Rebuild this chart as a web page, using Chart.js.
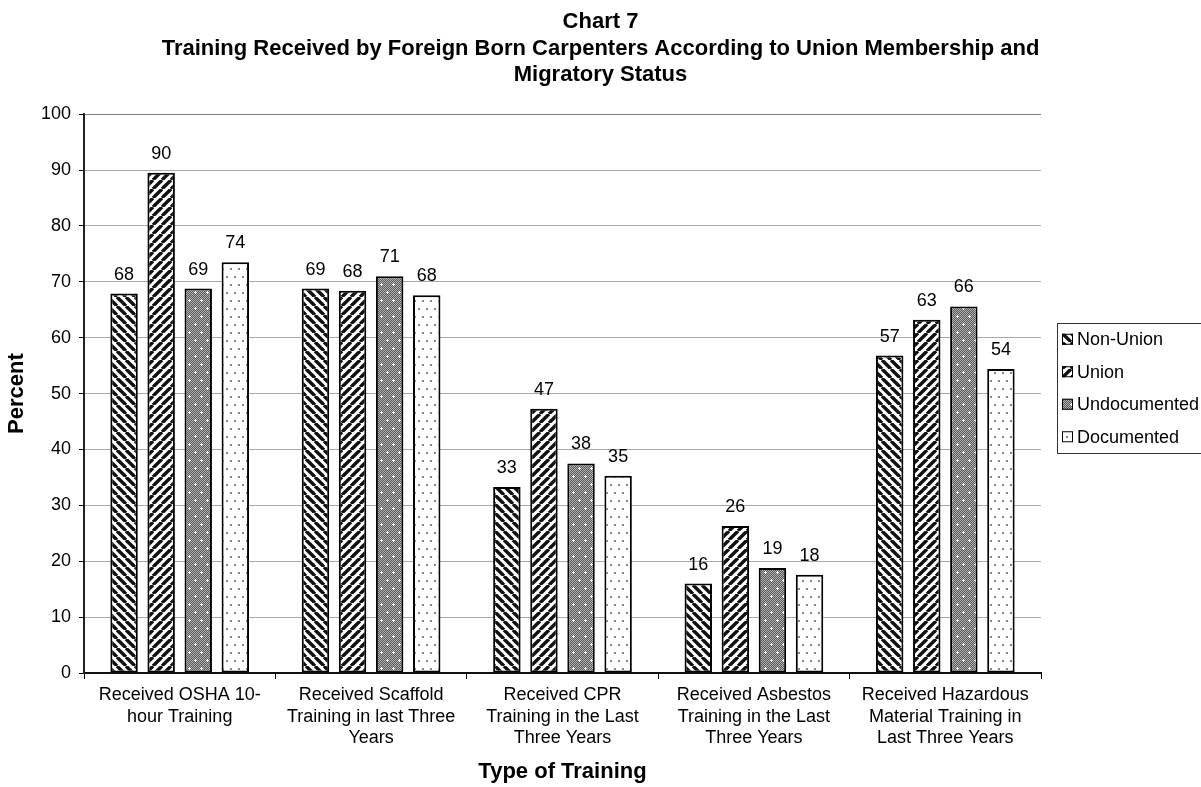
<!DOCTYPE html>
<html><head><meta charset="utf-8">
<script src="https://cdn.jsdelivr.net/npm/chart.js@4/dist/chart.umd.min.js"></script>
<style>html,body{margin:0;padding:0;background:#fff}</style>
</head><body>
<canvas id="c" width="1201" height="787"></canvas>
<script>
const categories = [
  ['Received OSHA 10-', 'hour Training'],
  ['Received Scaffold', 'Training in last Three', 'Years'],
  ['Received CPR', 'Training in the Last', 'Three Years'],
  ['Received Asbestos', 'Training in the Last', 'Three Years'],
  ['Received Hazardous', 'Material Training in', 'Last Three Years']
];
const seriesNames = ['Non-Union', 'Union', 'Undocumented', 'Documented'];
const nonUnion     = [67.9, 68.8, 33.3, 16.0, 56.8];
const union        = [89.5, 68.4, 47.3, 26.3, 63.2];
const undocumented = [68.8, 71.0, 37.5, 18.8, 65.6];
const documented   = [73.5, 67.6, 35.3, 17.6, 54.4];
const yTicks = [0, 10, 20, 30, 40, 50, 60, 70, 80, 90, 100];
const titleLines = ['Chart 7', 'Training Received by Foreign Born Carpenters According to Union Membership and', 'Migratory Status'];
const xTitle = 'Type of Training';
const yTitle = 'Percent';

const F = '"Liberation Sans", Arial, sans-serif';

function tile(w, h, draw) {
  const c = document.createElement('canvas');
  c.width = w; c.height = h;
  const g = c.getContext('2d');
  draw(g, w, h);
  return document.getElementById('c').getContext('2d').createPattern(c, 'repeat');
}
function stripes(dir) {
  return tile(9, 9, (g, w, h) => {
    g.fillStyle = '#fff'; g.fillRect(0, 0, w, h);
    g.strokeStyle = '#111'; g.lineWidth = 3.4;
    for (let k = -1; k <= 1; k++) {
      g.beginPath();
      if (dir > 0) { g.moveTo(k * w, 0); g.lineTo(k * w + w, h); }
      else { g.moveTo(k * w + w, 0); g.lineTo(k * w, h); }
      g.stroke();
    }
  });
}
const patNonUnion = stripes(1);
const patUnion = stripes(-1);
const patUndoc = tile(12, 16, (g, w, h) => {
  for (let y = 0; y < h; y++) for (let x = 0; x < w; x++) {
    g.fillStyle = ((x + y) % 2) ? '#5a5a5a' : '#b0b0b0';
    g.fillRect(x, y, 1, 1);
  }
  g.fillStyle = '#fff';
  [[3, 4], [9, 12]].forEach(([x, y]) => {
    g.fillRect(x - 1, y, 3, 1); g.fillRect(x, y - 1, 1, 3);
  });
});
const patDoc = tile(8, 16, (g, w, h) => {
  g.fillStyle = '#fff'; g.fillRect(0, 0, w, h);
  g.fillStyle = '#888';
  g.fillRect(2, 4, 2, 2); g.fillRect(6, 12, 2, 2);
});
const patterns = [patNonUnion, patUnion, patUndoc, patDoc];
const seriesData = [nonUnion, union, undocumented, documented];

const valueLabels = {
  id: 'valueLabels',
  afterDatasetsDraw(chart) {
    const ctx = chart.ctx;
    ctx.save();
    ctx.font = '18px ' + F;
    ctx.fillStyle = '#000';
    ctx.textAlign = 'center';
    ctx.textBaseline = 'middle';
    chart.data.datasets.forEach((ds, i) => {
      chart.getDatasetMeta(i).data.forEach((el, j) => {
        ctx.fillText(String(Math.round(ds.data[j])), el.x, el.y - 19);
      });
    });
    ctx.restore();
  }
};

const boxLegend = {
  id: 'boxLegend',
  afterDraw(chart) {
    const ctx = chart.ctx;
    const x0 = 1057, y0 = 323, h = 130;
    ctx.save();
    ctx.strokeStyle = '#333'; ctx.lineWidth = 1;
    ctx.strokeRect(x0 + 0.5, y0 + 0.5, 200, h);
    ctx.font = '18px ' + F;
    ctx.textBaseline = 'middle';
    ctx.textAlign = 'left';
    chart.data.datasets.forEach((ds, i) => {
      const cy = y0 + h / 8 + i * h / 4;
      ctx.fillStyle = ds.backgroundColor;
      ctx.fillRect(x0 + 5, cy - 5.5, 11, 11);
      ctx.strokeStyle = '#000';
      ctx.strokeRect(x0 + 5.5, cy - 5, 10, 10);
      ctx.fillStyle = '#000';
      ctx.fillText(ds.label, x0 + 20, cy + 1);
    });
    ctx.restore();
  }
};

new Chart(document.getElementById('c'), {
  type: 'bar',
  data: {
    labels: categories,
    datasets: seriesNames.map((name, i) => ({
      label: name,
      data: seriesData[i],
      backgroundColor: patterns[i],
      borderColor: '#000',
      borderWidth: 2,
      borderSkipped: false,
      categoryPercentage: 0.775,
      barPercentage: 0.74
    }))
  },
  options: {
    responsive: false,
    animation: false,
    devicePixelRatio: 1,
    layout: { padding: 0 },
    plugins: {
      legend: { display: false },
      tooltip: { enabled: false },
      title: {
        display: true,
        text: titleLines,
        color: '#000',
        font: { family: F, size: 22, weight: 'bold', lineHeight: 1.2 },
        padding: { top: 9, bottom: 26 }
      }
    },
    scales: {
      x: {
        grid: { display: true, drawOnChartArea: false, drawTicks: true, tickLength: 6, tickColor: '#000', tickWidth: 1, offset: true },
        border: { color: '#111', width: 2 },
        ticks: { color: '#000', font: { family: F, size: 18, lineHeight: 1.17 }, padding: 6, maxRotation: 0, autoSkip: false },
        title: { display: true, text: xTitle, color: '#000', font: { family: F, size: 22, weight: 'bold', lineHeight: 1.2 }, padding: { top: 0, bottom: 2 } },
        afterFit(s) { s.height = 114; }
      },
      y: {
        min: 0, max: 100,
        afterBuildTicks(s) { s.ticks = yTicks.map(v => ({ value: v })); },
        ticks: { color: '#000', font: { family: F, size: 18 }, padding: 8 },
        grid: { color: c => (c.tick && c.tick.value === 100) ? '#808080' : '#a8a8a8', lineWidth: 1, tickColor: '#000', tickLength: 5 },
        border: { color: '#222', width: 2 },
        title: { display: true, text: yTitle, color: '#000', font: { family: F, size: 22, weight: 'bold', lineHeight: 1.2 }, padding: { top: 4, bottom: 0 } },
        afterFit(s) { s.width = 84; }
      },
      spacer: {
        type: 'linear', position: 'right', display: true,
        ticks: { display: false }, grid: { display: false }, border: { display: false },
        afterFit(s) { s.width = 160; }
      }
    }
  },
  plugins: [valueLabels, boxLegend]
});
</script>
</body></html>
